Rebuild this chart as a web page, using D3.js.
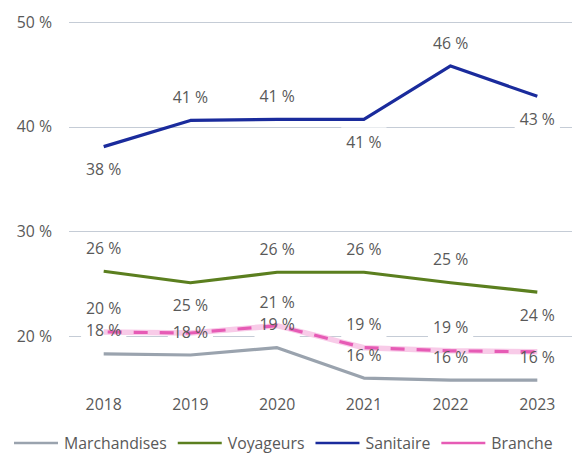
<!DOCTYPE html>
<html><head><meta charset="utf-8">
<script src="https://cdn.jsdelivr.net/npm/d3@7"></script>
<style>body{margin:0;background:#fff}svg{display:block}</style>
</head><body>
<svg id="chart" width="572" height="454"></svg>
<script>
const years = [2018, 2019, 2020, 2021, 2022, 2023];
const yTicks = [20, 30, 40, 50];
const marchandises = [18.3, 18.2, 18.9, 16.0, 15.8, 15.8];
const voyageurs = [26.2, 25.1, 26.1, 26.1, 25.1, 24.2];
const sanitaire = [38.1, 40.6, 40.7, 40.7, 45.8, 42.9];
const branche = [20.4, 20.3, 21.0, 18.9, 18.6, 18.5];
const marchandisesLabels = ["above","above","above","above","above","above"];
const voyageursLabels = ["above","below","above","above","above","below"];
const sanitaireLabels = ["below","above","above","below","above","below"];
const brancheLabels = ["above","none","above","above","above","none"];
const seriesNames = ["Marchandises","Voyageurs","Sanitaire","Branche"];

const series = [
  {name:seriesNames[0], values:marchandises, labels:marchandisesLabels, color:"#9aa3ae"},
  {name:seriesNames[1], values:voyageurs, labels:voyageursLabels, color:"#5b7f1f"},
  {name:seriesNames[2], values:sanitaire, labels:sanitaireLabels, color:"#1a2b9c"},
  {name:seriesNames[3], values:branche, labels:brancheLabels, color:"#e65bb5", dashed:true}
];

const FONT = "'Open Sans', 'Noto Sans', sans-serif";
const FS = 15.8;
const svg = d3.select("#chart");
const x = d3.scalePoint().domain(years).range([69, 572]).padding(0.4);
const y = d3.scaleLinear().domain([15, 50]).range([388.5, 22]);

// gridlines
svg.append("g").selectAll("line").data(yTicks).join("line")
  .attr("x1", 69).attr("x2", 572)
  .attr("y1", d => Math.round(y(d)) + 0.5).attr("y2", d => Math.round(y(d)) + 0.5)
  .attr("stroke", "#c5ccd6").attr("stroke-width", 1);

// y labels
svg.append("g").selectAll("text").data(yTicks).join("text")
  .attr("x", 52).attr("y", d => y(d)).attr("dy", "0.35em")
  .attr("text-anchor", "end").attr("font-family", FONT).attr("font-size", FS)
  .attr("fill", "#595959").text(d => d + " %");

// x labels
svg.append("g").selectAll("text").data(years).join("text")
  .attr("x", d => x(d)).attr("y", 404).attr("dy", "0.35em")
  .attr("text-anchor", "middle").attr("font-family", FONT).attr("font-size", FS)
  .attr("fill", "#595959").text(d => d);

// label data
const labelData = [];
series.forEach(s => s.values.forEach((v, i) => {
  if (s.labels[i] === "none") return;
  labelData.push({x: x(years[i]), y: y(v) + (s.labels[i] === "above" ? -23 : 23), t: Math.round(v) + " %"});
}));

const bg = svg.append("g");
const lineG = svg.append("g");
const txtG = svg.append("g");

const texts = txtG.selectAll("text").data(labelData).join("text")
  .attr("x", d => d.x).attr("y", d => d.y).attr("dy", "0.35em")
  .attr("text-anchor", "middle").attr("font-family", FONT).attr("font-size", FS)
  .attr("fill", "#595959").text(d => d.t);
texts.each(function(d){
  const w = this.getComputedTextLength();
  bg.append("rect").attr("x", d.x - w/2 - 5).attr("y", d.y - 15)
    .attr("width", w + 10).attr("height", 30).attr("fill", "#fff");
});

const line = d3.line().x((d, i) => x(years[i])).y(d => y(d));
series.forEach(s => {
  if (s.dashed) {
    lineG.append("path").attr("d", line(s.values)).attr("fill", "none")
      .attr("stroke", "#f8cbe8").attr("stroke-width", 5.5);
    lineG.append("path").attr("d", line(s.values)).attr("fill", "none")
      .attr("stroke", s.color).attr("stroke-width", 3.2).attr("stroke-dasharray", "14 12")
      .attr("stroke-dashoffset", -30);
  } else {
    lineG.append("path").attr("d", line(s.values)).attr("fill", "none")
      .attr("stroke", s.color).attr("stroke-width", 3.2).attr("stroke-linejoin", "round");
  }
});

// legend
const leg = svg.append("g");
let lx = 14;
series.forEach(s => {
  leg.append("line").attr("x1", lx).attr("x2", lx + 44).attr("y1", 443).attr("y2", 443)
    .attr("stroke", s.color).attr("stroke-width", 2.5);
  const t = leg.append("text").attr("x", lx + 50).attr("y", 443).attr("dy", "0.35em")
    .attr("font-family", FONT).attr("font-size", FS).attr("fill", "#595959").text(s.name);
  lx += 50 + t.node().getComputedTextLength() + 11;
});
</script>
</body></html>
